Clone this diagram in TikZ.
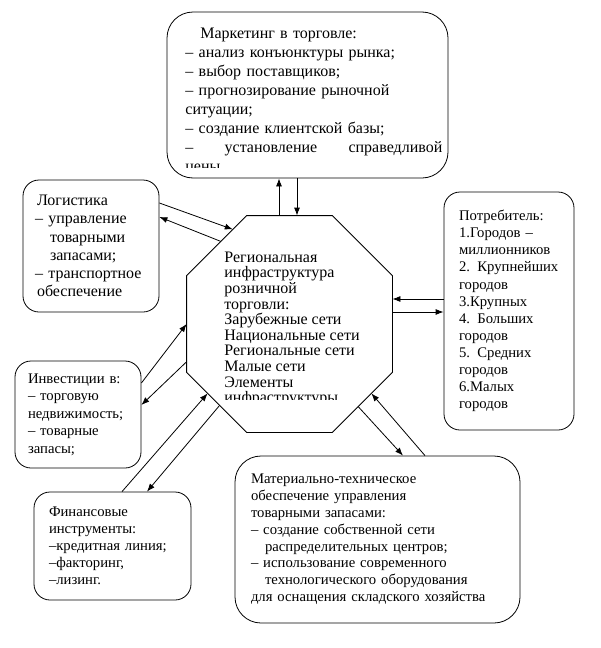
\documentclass[tikz,border=0pt]{standalone}
\usepackage{fontspec}
\setmainfont{Liberation Serif}
\usetikzlibrary{arrows.meta,calc}

\tikzset{
	fontsk/.style={font=\fontsize{16pt}{#1}\selectfont},
	smallsk/.style={font=\fontsize{14.7pt}{#1}\selectfont},
	box/.style={draw, rounded corners=16pt, align=left, inner ysep=0pt, fontsk=18pt},
	bigbox/.style={box, rounded corners=26pt},
	txt/.style={anchor=north west, inner sep=0pt, align=left},
	arr/.style={-{Latex[length=8pt,width=6pt]}}
}

\begin{document}
\begin{tikzpicture}[x=1pt, y=-1pt, line width=0.8pt]
	\useasboundingbox (0,0) rectangle (601,648);

	\node[bigbox, minimum width=281pt, minimum height=166pt] (mark) at (307.5,95) {};
	\begin{scope}
		\clip (167,12) rectangle (448,167);
		\node[txt, fontsk=19pt, text width=257pt] (marktxt) at (185,27.4) {\hspace*{15pt}Маркетинг в торговле:\\
			– анализ конъюнктуры рынка;\\
			– выбор поставщиков;\\
			– прогнозирование рыночной\\
			ситуации;\\
			– создание клиентской базы;\\
			–\hfill установление\hfill справедливой\\
			цены};
	\end{scope}

	\node[minimum width=205pt, minimum height=216pt, inner sep=0pt] (oct) at (289.5,324) {};
	\coordinate (c1) at ([xshift=60pt]oct.north west);
	\coordinate (c2) at ([xshift=-60pt]oct.north east);
	\coordinate (c3) at ([yshift=-60pt]oct.north east);
	\coordinate (c4) at ([yshift=60pt]oct.south east);
	\coordinate (c5) at ([xshift=-60pt]oct.south east);
	\coordinate (c6) at ([xshift=60pt]oct.south west);
	\coordinate (c7) at ([yshift=60pt]oct.south west);
	\coordinate (c8) at ([yshift=-60pt]oct.north west);
	\draw (c1) -- (c2) -- (c3) -- (c4) -- (c5) -- (c6) -- (c7) -- (c8) -- cycle;
	\begin{scope}
		\clip (187,216) rectangle (392,399.5);
		\node[txt, fontsk=15.6pt] (octtxt) at (224,251.4) {Региональная\\
			инфраструктура\\
			розничной\\
			торговли:\\
			Зарубежные сети\\
			Национальные сети\\
			Региональные сети\\
			Малые сети\\
			Элементы\\
			инфраструктуры};
	\end{scope}

	\node[box, fontsk=18.3pt, minimum width=136pt, minimum height=132pt, text width=112pt, inner xsep=12pt] (log) at (91,246) {\hspace*{2pt}Логистика\\
		– управление\\
		\hspace*{15pt}товарными\\
		\hspace*{15pt}запасами;\\
		– транспортное\\
		\hspace*{2pt}обеспечение};

	\node[box, smallsk=17.5pt, minimum width=126pt, minimum height=107pt, text width=100pt, inner xsep=13pt] (inv) at (78,414.5) {Инвестиции в:\\
		– торговую\\
		недвижимость;\\
		– товарные\\
		запасы;};

	\node[box, smallsk=17pt, minimum width=157pt, minimum height=108pt, text width=127pt, inner xsep=15pt] (fin) at (112.5,546) {Финансовые\\
		инструменты:\\
		–кредитная линия;\\
		–факторинг,\\
		–лизинг.};

	\node[box, smallsk=17.1pt, minimum width=130pt, minimum height=238pt, text width=100pt, inner xsep=15pt] (potr) at (509,311) {Потребитель:\\
		1.Городов –\\
		миллионников\\
		2. Крупнейших\\
		городов\\
		3.Крупных\\
		4. Больших\\
		городов\\
		5. Средних\\
		городов\\
		6.Малых\\
		городов};

	\node[bigbox, smallsk=16.8pt, minimum width=285pt, minimum height=167pt, text width=253pt, inner xsep=16pt] (mat) at (377.5,539.5) {Материально-техническое\\
		обеспечение управления\\
		товарными запасами:\\
		– создание собственной сети\\
		\hspace*{14pt}распределительных центров;\\
		– использование современного\\
		\hspace*{14pt}технологического оборудования\\
		для оснащения складского хозяйства};

	\draw[arr] (c1 -| 279,0) -- (mark.south -| 279,0);
	\draw[arr] (mark.south -| 297,0) -- (c1 -| 297,0);
	\draw[arr] (log.east |- 0,203) -- ($(c8)!.77!(c1)$);
	\draw[arr] ($(c8)!.57!(c1)$) -- (log.east |- 0,217);
	\draw[arr] (inv.east |- 0,383) -- ($(c8)!.5!(c7)$);
	\draw[arr] ($(c8)!.89!(c7)$) -- (inv.east |- 0,405);
	\draw[arr] (fin.north -| 122,0) -- ($(c7)!.35!(c6)$);
	\draw[arr] ($(c7)!.55!(c6)$) -- (fin.north -| 147,0);
	\draw[arr] ($(c4)!.57!(c5)$) -- (mat.north -| 403,0);
	\draw[arr] (mat.north -| 425,0) -- ($(c4)!.35!(c5)$);
	\draw[arr] (potr.west |- 0,299) -- (c3 |- 0,299);
	\draw[arr] (c3 |- 0,312) -- (potr.west |- 0,312);
\end{tikzpicture}
\end{document}
